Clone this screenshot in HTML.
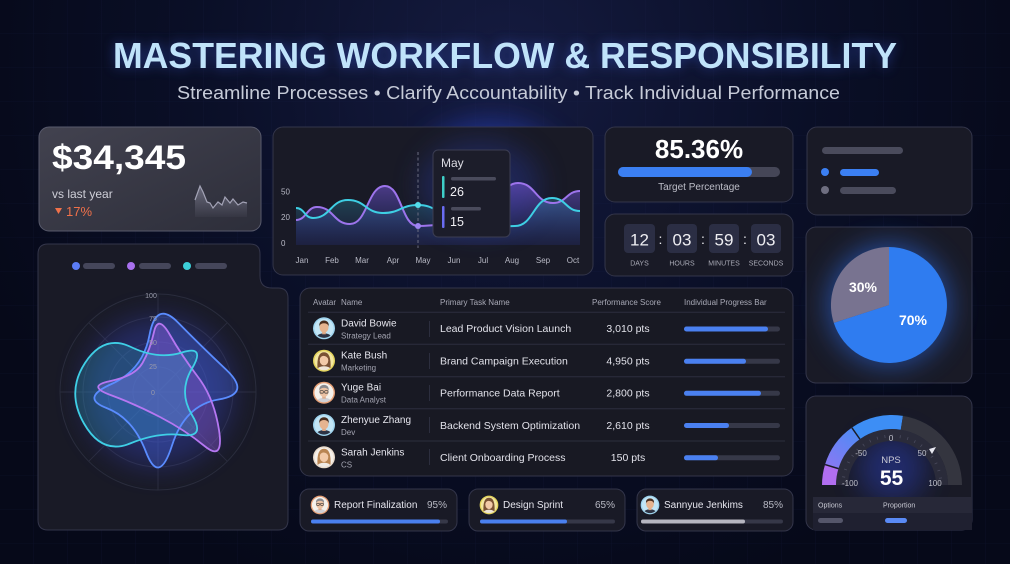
<!DOCTYPE html>
<html><head><meta charset="utf-8"><style>html,body{margin:0;padding:0;background:#070b1e;}svg{display:block}</style></head>
<body>
<svg xmlns="http://www.w3.org/2000/svg" width="1010" height="564" viewBox="0 0 1010 564" font-family="'Liberation Sans', sans-serif">
<defs>
 <radialGradient id="bgG" cx="505" cy="70" r="560" gradientUnits="userSpaceOnUse">
  <stop offset="0" stop-color="#151b40"/>
  <stop offset="0.55" stop-color="#0a0f27"/>
  <stop offset="1" stop-color="#060919"/>
 </radialGradient>
 <pattern id="grid" width="34" height="34" patternUnits="userSpaceOnUse">
  <path d="M34 0 V34 M0 34 H34" stroke="#1c2454" stroke-width="0.6" fill="none" opacity="0.35"/>
 </pattern>
 <filter id="blur6" x="-20%" y="-80%" width="140%" height="260%"><feGaussianBlur stdDeviation="6"/></filter>
 <filter id="blur2" x="-20%" y="-20%" width="140%" height="140%"><feGaussianBlur stdDeviation="2"/></filter>
 <filter id="blur14" x="-80%" y="-80%" width="260%" height="260%"><feGaussianBlur stdDeviation="14"/></filter>
 <linearGradient id="c1g" x1="0" y1="0" x2="1" y2="1">
  <stop offset="0" stop-color="#42424f"/><stop offset="1" stop-color="#2d2e3a"/>
 </linearGradient>
 <linearGradient id="sparkG" x1="0" y1="185" x2="0" y2="217" gradientUnits="userSpaceOnUse">
  <stop offset="0" stop-color="#9a9ab0" stop-opacity="0.55"/><stop offset="1" stop-color="#9a9ab0" stop-opacity="0.05"/>
 </linearGradient>
 <linearGradient id="areaP" x1="0" y1="183" x2="0" y2="245" gradientUnits="userSpaceOnUse">
  <stop offset="0" stop-color="#7c5ae0" stop-opacity="0.55"/><stop offset="1" stop-color="#2b3aa0" stop-opacity="0.12"/>
 </linearGradient>
 <linearGradient id="areaC" x1="0" y1="198" x2="0" y2="245" gradientUnits="userSpaceOnUse">
  <stop offset="0" stop-color="#2fb5c8" stop-opacity="0.28"/><stop offset="1" stop-color="#2b3aa0" stop-opacity="0.1"/>
 </linearGradient>
 <linearGradient id="gaugeG" x1="825" y1="465" x2="855" y2="428" gradientUnits="userSpaceOnUse">
  <stop offset="0" stop-color="#8a78f2"/><stop offset="1" stop-color="#4d8cf5"/>
 </linearGradient>
 <clipPath id="avc"><circle r="9.6"/></clipPath>
 <clipPath id="chartClip"><rect x="273" y="127" width="320" height="148" rx="10"/></clipPath>
</defs>

<!-- background -->
<rect width="1010" height="564" fill="url(#bgG)"/>
<rect width="1010" height="564" fill="url(#grid)"/>

<!-- title -->
<text x="505" y="68" text-anchor="middle" font-size="36" font-weight="bold" fill="#3a5ad0" opacity="0.55" filter="url(#blur6)" textLength="784" lengthAdjust="spacingAndGlyphs">MASTERING WORKFLOW &amp; RESPONSIBILITY</text>
<text x="505" y="68" text-anchor="middle" font-size="36" font-weight="bold" fill="#c0e3fa" textLength="784" lengthAdjust="spacingAndGlyphs">MASTERING WORKFLOW &amp; RESPONSIBILITY</text>
<text x="508.5" y="99" text-anchor="middle" font-size="18" fill="#c6cbd8" textLength="663" lengthAdjust="spacingAndGlyphs">Streamline Processes • Clarify Accountability • Track Individual Performance</text>

<!-- Card 1: revenue -->
<rect x="39" y="127" width="222" height="104" rx="10" fill="url(#c1g)" stroke="#585a6c" stroke-width="1"/>
<text x="52" y="169" font-size="34" font-weight="bold" fill="#ffffff" textLength="134" lengthAdjust="spacingAndGlyphs">$34,345</text>
<text x="52" y="198" font-size="12" fill="#cfcfd8">vs last year</text>
<path d="M55,208 L62,208 L58.5,214 Z" fill="#f0714a"/>
<text x="66" y="216" font-size="13" fill="#f0714a">17%</text>
<path d="M195,217 L195,200 L200,186 L203,192 L207,202 L210,203 L213,208 L218,202 L222,205 L225,197 L230,203 L233,199 L238,205 L243,202 L247,203 L247,217 Z" fill="url(#sparkG)"/>
<path d="M195,200 L200,186 L203,192 L207,202 L210,203 L213,208 L218,202 L222,205 L225,197 L230,203 L233,199 L238,205 L243,202 L247,203" fill="none" stroke="#a3a3b6" stroke-width="1.2"/>

<!-- Card 2: line chart -->
<ellipse cx="490" cy="175" rx="75" ry="55" fill="#2a44c8" opacity="0.55" filter="url(#blur14)"/>
<rect x="273" y="127" width="320" height="148" rx="10" fill="#191a26" stroke="#33354a" stroke-width="1"/>
<g clip-path="url(#chartClip)">
 <ellipse cx="480" cy="185" rx="60" ry="45" fill="#2a3cb0" opacity="0.35" filter="url(#blur14)"/>
</g>
<path d="M296,220 C306.5,220 306.5,207 317,207 C333.5,207 333.5,224 350,224 C367.5,224 367.5,186 385,186 C401.5,186 401.5,226 418,226 C429,226 429,225 440,225 C461.5,225 461.5,210 483,210 C500.5,210 500.5,183 518,183 C535.5,183 535.5,203 553,203 C566.5,203 566.5,191 580,191 L580,245 L296,245 Z" fill="url(#areaP)"/>
<path d="M296,208 C304.5,208 304.5,218 313,218 C330.5,218 330.5,200 348,200 C365.5,200 365.5,213 383,213 C400.5,213 400.5,205 418,205 C436,205 436,215 454,215 C468.5,215 468.5,228 483,228 C499,228 499,226 515,226 C533.5,226 533.5,198 552,198 C566,198 566,211 580,211 L580,245 L296,245 Z" fill="url(#areaC)"/>
<line x1="418" y1="152" x2="418" y2="248" stroke="#6a6c80" stroke-width="1" stroke-dasharray="3 2.5"/>
<path d="M296,220 C306.5,220 306.5,207 317,207 C333.5,207 333.5,224 350,224 C367.5,224 367.5,186 385,186 C401.5,186 401.5,226 418,226 C429,226 429,225 440,225 C461.5,225 461.5,210 483,210 C500.5,210 500.5,183 518,183 C535.5,183 535.5,203 553,203 C566.5,203 566.5,191 580,191" fill="none" stroke="#9d74ec" stroke-width="2"/>
<path d="M296,208 C304.5,208 304.5,218 313,218 C330.5,218 330.5,200 348,200 C365.5,200 365.5,213 383,213 C400.5,213 400.5,205 418,205 C436,205 436,215 454,215 C468.5,215 468.5,228 483,228 C499,228 499,226 515,226 C533.5,226 533.5,198 552,198 C566,198 566,211 580,211" fill="none" stroke="#3ecfe4" stroke-width="2"/>
<circle cx="418" cy="205" r="3" fill="#55dcea"/>
<circle cx="418" cy="226" r="3" fill="#9e84f2"/>
<g font-size="8" fill="#b9bac6">
 <text x="281" y="194.5">50</text>
 <text x="281" y="220">20</text>
 <text x="281" y="246">0</text>
 <g text-anchor="middle">
  <text x="302" y="263">Jan</text><text x="332" y="263">Feb</text><text x="362" y="263">Mar</text>
  <text x="393" y="263">Apr</text><text x="423" y="263">May</text><text x="454" y="263">Jun</text>
  <text x="483" y="263">Jul</text><text x="512" y="263">Aug</text><text x="543" y="263">Sep</text>
  <text x="573" y="263">Oct</text>
 </g>
</g>
<!-- tooltip -->
<rect x="433" y="150" width="77" height="87" rx="5" fill="#1c1d2a" stroke="#3b3d52" stroke-width="1"/>
<text x="441" y="167" font-size="12" fill="#dcdce4">May</text>
<rect x="442" y="176" width="2.5" height="22" rx="1" fill="#3ecfc8"/>
<rect x="451" y="177" width="45" height="3.5" rx="1.7" fill="#4a4b5c"/>
<text x="450" y="196" font-size="12.5" fill="#f0f0f4">26</text>
<rect x="442" y="206" width="2.5" height="22" rx="1" fill="#6a6cf2"/>
<rect x="451" y="207" width="30" height="3.5" rx="1.7" fill="#4a4b5c"/>
<text x="450" y="226" font-size="12.5" fill="#f0f0f4">15</text>

<!-- Target percentage card -->
<rect x="605" y="127" width="188" height="75" rx="10" fill="#191a26" stroke="#33354a" stroke-width="1"/>
<text x="699" y="158" text-anchor="middle" font-size="26" font-weight="bold" fill="#ffffff">85.36%</text>
<rect x="618" y="167" width="162" height="10" rx="5" fill="#454657"/>
<rect x="618" y="167" width="134" height="10" rx="5" fill="#3b7ff2"/>
<text x="699" y="190" text-anchor="middle" font-size="10" fill="#bdbec8">Target Percentage</text>

<!-- Countdown card -->
<rect x="605" y="214" width="188" height="62" rx="10" fill="#191a26" stroke="#33354a" stroke-width="1"/>
<g fill="#2b2e44">
 <rect x="624" y="224" width="31" height="29" rx="4"/>
 <rect x="667" y="224" width="30" height="29" rx="4"/>
 <rect x="709" y="224" width="30" height="29" rx="4"/>
 <rect x="751" y="224" width="30" height="29" rx="4"/>
</g>
<g font-size="17" fill="#eeeef2" text-anchor="middle">
 <text x="639.5" y="245.5">12</text><text x="682" y="245.5">03</text>
 <text x="724" y="245.5">59</text><text x="766" y="245.5">03</text>
 <text x="660.5" y="244" font-size="14">:</text><text x="703" y="244" font-size="14">:</text><text x="745" y="244" font-size="14">:</text>
</g>
<g font-size="7" fill="#a9aab6" text-anchor="middle">
 <text x="639.5" y="265.5">DAYS</text><text x="682" y="265.5">HOURS</text>
 <text x="724" y="265.5">MINUTES</text><text x="766" y="265.5">SECONDS</text>
</g>

<!-- top right legend card -->
<rect x="807" y="127" width="165" height="88" rx="10" fill="#191a26" stroke="#33354a" stroke-width="1"/>
<rect x="822" y="147" width="81" height="7" rx="3.5" fill="#4a4b5c"/>
<circle cx="825" cy="172" r="4" fill="#3b7ff2"/>
<rect x="840" y="169" width="39" height="7" rx="3.5" fill="#3b7ff2"/>
<circle cx="825" cy="190" r="4" fill="#6e6e80"/>
<rect x="840" y="187" width="56" height="7" rx="3.5" fill="#4a4b5c"/>

<!-- Pie card -->
<rect x="806" y="227" width="166" height="156" rx="10" fill="#191a26" stroke="#33354a" stroke-width="1"/>
<circle cx="889" cy="305" r="60" fill="#2f6ff0" opacity="0.6" filter="url(#blur14)"/>
<path d="M889,305 L889,247 A58,58 0 1 1 833.8,322.9 Z" fill="#2f7cf0"/>
<path d="M889,305 L889,247 A58,58 0 0 0 833.8,322.9 Z" fill="#787390"/>
<text x="863" y="292" text-anchor="middle" font-size="14" font-weight="bold" fill="#ffffff">30%</text>
<text x="913" y="325" text-anchor="middle" font-size="14" font-weight="bold" fill="#ffffff">70%</text>

<!-- Gauge card -->
<rect x="806" y="396" width="166" height="134" rx="10" fill="#191a26" stroke="#33354a" stroke-width="1"/>
<circle cx="892" cy="468" r="34" fill="#2a40c0" opacity="0.45" filter="url(#blur14)"/>
<path d="M836,485 A56,56 0 0 1 948,485 L936,485 A44,44 0 0 0 848,485 Z" fill="#2a2b3a"/>
<path d="M843,485 A49,49 0 0 1 941,485" fill="none" stroke="#4a4b5e" stroke-width="3" stroke-dasharray="0.8 6.9"/>
<path d="M822,485 A70,70 0 0 1 825.06,464.53 L838.45,468.63 A56,56 0 0 0 836,485 Z" fill="#b16ef0"/>
<path d="M825.06,464.53 A70,70 0 0 1 851.85,427.66 L859.88,439.12 A56,56 0 0 0 838.45,468.63 Z" fill="url(#gaugeG)"/>
<path d="M851.85,427.66 A70,70 0 0 1 902.95,415.86 L900.76,429.69 A56,56 0 0 0 859.88,439.12 Z" fill="#3d8ef5"/>
<path d="M902.95,415.86 A70,70 0 0 1 962,485 L948,485 A56,56 0 0 0 900.76,429.69 Z" fill="#34353f"/>
<line x1="825.06" y1="464.53" x2="838.45" y2="468.63" stroke="#1b1c28" stroke-width="1.5"/>
<line x1="851.85" y1="427.66" x2="859.88" y2="439.12" stroke="#1b1c28" stroke-width="1.5"/>
<g font-size="8" fill="#bfc0ca" text-anchor="middle">
 <text x="891" y="441">0</text>
 <text x="861" y="456">-50</text>
 <text x="922" y="456">50</text>
 <text x="850" y="486">-100</text>
 <text x="935" y="486">100</text>
</g>
<path d="M929,449 L936,447 L932,454 Z" fill="#e8e8f0"/>
<text x="891" y="463" text-anchor="middle" font-size="9.5" fill="#c9cad4">NPS</text>
<text x="891.5" y="485" text-anchor="middle" font-size="21" font-weight="bold" fill="#ffffff">55</text>
<rect x="813" y="497" width="159" height="16" fill="#272838"/>
<rect x="813" y="513" width="159" height="17" fill="#1f2030"/>
<text x="818" y="507.5" font-size="7" fill="#c9cad4">Options</text>
<text x="883" y="507.5" font-size="7" fill="#c9cad4">Proportion</text>
<rect x="818" y="518" width="25" height="5" rx="2.5" fill="#55566a"/>
<rect x="885" y="518" width="22" height="5" rx="2.5" fill="#5a8af5"/>

<!-- Radar card -->
<path d="M48,244 H250 Q260,244 260,254 V276 Q260,288 272,288 H278 Q288,288 288,298 V520 Q288,530 278,530 H48 Q38,530 38,520 V254 Q38,244 48,244 Z" fill="#191a26" stroke="#33354a" stroke-width="1"/>
<circle cx="76" cy="266" r="4" fill="#5b7cf5"/><rect x="83" y="263" width="32" height="6" rx="3" fill="#45465a"/>
<circle cx="131" cy="266" r="4" fill="#a870ee"/><rect x="139" y="263" width="32" height="6" rx="3" fill="#45465a"/>
<circle cx="187" cy="266" r="4" fill="#3ccfd8"/><rect x="195" y="263" width="32" height="6" rx="3" fill="#45465a"/>
<g fill="none" stroke="#2b2c3b" stroke-width="1">
 <circle cx="158" cy="392" r="25"/><circle cx="158" cy="392" r="50"/><circle cx="158" cy="392" r="75"/><circle cx="158" cy="392" r="98"/>
 <line x1="60" y1="392" x2="256" y2="392"/><line x1="158" y1="294" x2="158" y2="490"/>
 <line x1="88.7" y1="322.7" x2="227.3" y2="461.3"/><line x1="227.3" y1="322.7" x2="88.7" y2="461.3"/>
</g>
<circle cx="158" cy="392" r="75" fill="#3a4ad0" opacity="0.35" filter="url(#blur14)"/>
<path d="M149.5,335 Q156,300 178,322.5 Q200,345 226,369.5 Q252,394 218.5,399.5 Q185,405 172,445.5 Q159,486 146,452 Q133,418 106.5,408 Q80,398 111.5,384 Q143,370 149.5,335 Z" fill="#4a6ef0" fill-opacity="0.3"/>
<path d="M154,332 Q158,314 170,335 Q182,356 198,377 Q214,398 219,430 Q224,462 204.5,446 Q185,430 160,417 Q135,404 110.5,395 Q86,386 110.5,381 Q135,376 142.5,363 Q150,350 154,332 Z" fill="#9a5ee0" fill-opacity="0.35"/>
<path d="M84,423.5 Q66,392 85,363 Q104,334 131,347 Q158,360 182,352.5 Q206,345 192,368.5 Q178,392 192,415 Q206,438 182,435 Q158,432 130,443.5 Q102,455 84,423.5 Z" fill="#2ab0c8" fill-opacity="0.25"/>
<g fill="none" stroke-width="1.8">
 <path d="M149.5,335 Q156,300 178,322.5 Q200,345 226,369.5 Q252,394 218.5,399.5 Q185,405 172,445.5 Q159,486 146,452 Q133,418 106.5,408 Q80,398 111.5,384 Q143,370 149.5,335 Z" stroke="#5a8cff"/>
 <path d="M154,332 Q158,314 170,335 Q182,356 198,377 Q214,398 219,430 Q224,462 204.5,446 Q185,430 160,417 Q135,404 110.5,395 Q86,386 110.5,381 Q135,376 142.5,363 Q150,350 154,332 Z" stroke="#b577f2"/>
 <path d="M84,423.5 Q66,392 85,363 Q104,334 131,347 Q158,360 182,352.5 Q206,345 192,368.5 Q178,392 192,415 Q206,438 182,435 Q158,432 130,443.5 Q102,455 84,423.5 Z" stroke="#3fcfe6"/>
</g>
<g font-size="7" fill="#9a9bab" text-anchor="middle">
 <text x="151" y="298">100</text><text x="153" y="321">75</text><text x="153" y="345">50</text><text x="153" y="369">25</text><text x="153" y="395">0</text>
</g>

<!-- Table card -->
<rect x="300" y="288" width="493" height="188" rx="10" fill="#181923" stroke="#33354a" stroke-width="1"/>
<g font-size="8" fill="#a8a9b6">
 <text x="313" y="305">Avatar</text><text x="341" y="305">Name</text>
 <text x="440" y="305">Primary Task Name</text><text x="592" y="305">Performance Score</text>
 <text x="684" y="305">Individual Progress Bar</text>
</g>
<g stroke="#2c2e3e" stroke-width="1">
 <line x1="308" y1="312.3" x2="785" y2="312.3"/>
 <line x1="308" y1="344.3" x2="785" y2="344.3"/>
 <line x1="308" y1="376.7" x2="785" y2="376.7"/>
 <line x1="308" y1="408.7" x2="785" y2="408.7"/>
 <line x1="308" y1="441" x2="785" y2="441"/>
 <line x1="429.5" y1="321" x2="429.5" y2="337"/>
 <line x1="429.5" y1="353" x2="429.5" y2="369"/>
 <line x1="429.5" y1="385" x2="429.5" y2="401"/>
 <line x1="429.5" y1="417" x2="429.5" y2="433"/>
 <line x1="429.5" y1="449" x2="429.5" y2="465"/>
</g>
<g font-size="10" fill="#e6e6ee">
 <text x="341" y="326.5">David Bowie</text>
 <text x="341" y="358.7">Kate Bush</text>
 <text x="341" y="390.7">Yuge Bai</text>
 <text x="341" y="423">Zhenyue Zhang</text>
 <text x="341" y="455.3">Sarah Jenkins</text>
</g>
<g font-size="8" fill="#a4a5b2">
 <text x="341" y="338.5">Strategy Lead</text>
 <text x="341" y="370.7">Marketing</text>
 <text x="341" y="402.7">Data Analyst</text>
 <text x="341" y="435">Dev</text>
 <text x="341" y="467.3">CS</text>
</g>
<g font-size="10.5" fill="#e2e2ea">
 <text x="440" y="332.1">Lead Product Vision Launch</text>
 <text x="440" y="364.5">Brand Campaign Execution</text>
 <text x="440" y="396.5">Performance Data Report</text>
 <text x="440" y="428.8">Backend System Optimization</text>
 <text x="440" y="461.1">Client Onboarding Process</text>
</g>
<g font-size="10.5" fill="#e2e2ea" text-anchor="middle">
 <text x="628" y="332.1">3,010 pts</text>
 <text x="628" y="364.5">4,950 pts</text>
 <text x="628" y="396.5">2,800 pts</text>
 <text x="628" y="428.8">2,610 pts</text>
 <text x="628" y="461.1">150 pts</text>
</g>
<g fill="#363848">
 <rect x="684" y="326.5" width="96" height="5" rx="2.5"/>
 <rect x="684" y="358.8" width="96" height="5" rx="2.5"/>
 <rect x="684" y="390.8" width="96" height="5" rx="2.5"/>
 <rect x="684" y="423" width="96" height="5" rx="2.5"/>
 <rect x="684" y="455.3" width="96" height="5" rx="2.5"/>
</g>
<g fill="#4a80f0">
 <rect x="684" y="326.5" width="84" height="5" rx="2.5"/>
 <rect x="684" y="358.8" width="62" height="5" rx="2.5"/>
 <rect x="684" y="390.8" width="77" height="5" rx="2.5"/>
 <rect x="684" y="423" width="45" height="5" rx="2.5"/>
 <rect x="684" y="455.3" width="34" height="5" rx="2.5"/>
</g>

<!-- avatars in table -->
<g transform="translate(324,328.3)">
 <circle r="11" fill="#9fd4ee"/>
 <g clip-path="url(#avc)">
  <circle r="9.6" fill="#c2e5f5"/>
  <ellipse cy="11" rx="8.5" ry="6" fill="#2d3344"/>
  <rect x="-1.8" y="2" width="3.6" height="4" fill="#d9a583"/>
  <ellipse cy="-1" rx="4.5" ry="5.4" fill="#e6b48f"/>
  <path d="M-4.8,-1.5 Q-5.2,-7.6 0,-7.8 Q5.2,-7.6 4.8,-1.5 Q4.2,-4.8 0,-5 Q-4.2,-4.8 -4.8,-1.5Z" fill="#4a2e1e"/>
 </g>
</g>
<g transform="translate(324,360.7)">
 <circle r="11" fill="#e3d35c"/>
 <g clip-path="url(#avc)">
  <circle r="9.6" fill="#f3e7a0"/>
  <path d="M-6.5,8 Q-7.5,-8.5 0,-8.5 Q7.5,-8.5 6.5,8Z" fill="#7a5234"/>
  <ellipse cy="11" rx="8" ry="5.5" fill="#efe6d8"/>
  <ellipse cy="-0.5" rx="4.3" ry="5.3" fill="#f2caa8"/>
  <path d="M-4.6,-1 Q-4.5,-6.8 0,-6.8 Q4.5,-6.8 4.6,-1 Q3,-5 -1,-4.8 Q-3.8,-4.2 -4.6,-1Z" fill="#7a5234"/>
 </g>
</g>
<g transform="translate(324,392.7)">
 <circle r="11" fill="#e6a077"/>
 <g clip-path="url(#avc)">
  <circle r="9.6" fill="#f4f1ec"/>
  <ellipse cy="11" rx="8.5" ry="6" fill="#cfd0d6"/>
  <rect x="-1.8" y="2" width="3.6" height="4" fill="#dcae90"/>
  <ellipse cy="-1" rx="4.5" ry="5.4" fill="#ebc2a4"/>
  <path d="M-4.8,-1.5 Q-5.2,-7.6 0,-7.8 Q5.2,-7.6 4.8,-1.5 Q4.2,-4.8 0,-5 Q-4.2,-4.8 -4.8,-1.5Z" fill="#8a8a8e"/>
  <rect x="-4" y="-2" width="3.3" height="2.4" rx="0.6" fill="none" stroke="#333" stroke-width="0.7"/>
  <rect x="0.7" y="-2" width="3.3" height="2.4" rx="0.6" fill="none" stroke="#333" stroke-width="0.7"/>
 </g>
</g>
<g transform="translate(324,425)">
 <circle r="11" fill="#9fd4ee"/>
 <g clip-path="url(#avc)">
  <circle r="9.6" fill="#c2e5f5"/>
  <ellipse cy="11" rx="8.5" ry="6" fill="#2d3344"/>
  <rect x="-1.8" y="2" width="3.6" height="4" fill="#d9a583"/>
  <ellipse cy="-1" rx="4.5" ry="5.4" fill="#e6b48f"/>
  <path d="M-4.8,-1.5 Q-5.2,-7.6 0,-7.8 Q5.2,-7.6 4.8,-1.5 Q4.2,-4.8 0,-5 Q-4.2,-4.8 -4.8,-1.5Z" fill="#4a2e1e"/>
 </g>
</g>
<g transform="translate(324,457.3)">
 <circle r="11" fill="#e9dccd"/>
 <g clip-path="url(#avc)">
  <circle r="9.6" fill="#f5f0ea"/>
  <path d="M-6.5,8 Q-7.5,-8.5 0,-8.5 Q7.5,-8.5 6.5,8Z" fill="#b98552"/>
  <ellipse cy="11" rx="8" ry="5.5" fill="#f0ece6"/>
  <ellipse cy="-0.5" rx="4.3" ry="5.3" fill="#f2caa8"/>
  <path d="M-4.6,-1 Q-4.5,-6.8 0,-6.8 Q4.5,-6.8 4.6,-1 Q3,-5 -1,-4.8 Q-3.8,-4.2 -4.6,-1Z" fill="#b98552"/>
 </g>
</g>

<!-- Bottom progress cards -->
<rect x="300" y="489" width="157" height="42" rx="9" fill="#191a26" stroke="#33354a" stroke-width="1"/>
<rect x="469" y="489" width="156" height="42" rx="9" fill="#191a26" stroke="#33354a" stroke-width="1"/>
<rect x="637" y="489" width="156" height="42" rx="9" fill="#191a26" stroke="#33354a" stroke-width="1"/>
<g font-size="10" fill="#e6e6ee">
 <text x="334" y="508">Report Finalization</text>
 <text x="503" y="508">Design Sprint</text>
 <text x="664" y="508">Sannyue Jenkims</text>
</g>
<g font-size="10" fill="#b8b9c4" text-anchor="end">
 <text x="447" y="508">95%</text>
 <text x="615" y="508">65%</text>
 <text x="783" y="508">85%</text>
</g>
<rect x="311" y="519.5" width="137" height="4" rx="2" fill="#363848"/>
<rect x="311" y="519.5" width="129" height="4" rx="2" fill="#4a80f0"/>
<rect x="480" y="519.5" width="135" height="4" rx="2" fill="#363848"/>
<rect x="480" y="519.5" width="87" height="4" rx="2" fill="#4a80f0"/>
<rect x="641" y="519.5" width="142" height="4" rx="2" fill="#363848"/>
<rect x="641" y="519.5" width="104" height="4" rx="2" fill="#b6b6c0"/>

<g transform="translate(320,505) scale(0.85)">
 <circle r="11" fill="#e6a077"/>
 <g clip-path="url(#avc)">
  <circle r="9.6" fill="#f4f1ec"/>
  <ellipse cy="11" rx="8.5" ry="6" fill="#cfd0d6"/>
  <rect x="-1.8" y="2" width="3.6" height="4" fill="#dcae90"/>
  <ellipse cy="-1" rx="4.5" ry="5.4" fill="#ebc2a4"/>
  <path d="M-4.8,-1.5 Q-5.2,-7.6 0,-7.8 Q5.2,-7.6 4.8,-1.5 Q4.2,-4.8 0,-5 Q-4.2,-4.8 -4.8,-1.5Z" fill="#8a8a8e"/>
  <rect x="-4" y="-2" width="3.3" height="2.4" rx="0.6" fill="none" stroke="#333" stroke-width="0.7"/>
  <rect x="0.7" y="-2" width="3.3" height="2.4" rx="0.6" fill="none" stroke="#333" stroke-width="0.7"/>
 </g>
</g>
<g transform="translate(489,505) scale(0.85)">
 <circle r="11" fill="#e3d35c"/>
 <g clip-path="url(#avc)">
  <circle r="9.6" fill="#f3e7a0"/>
  <path d="M-6.5,8 Q-7.5,-8.5 0,-8.5 Q7.5,-8.5 6.5,8Z" fill="#7a5234"/>
  <ellipse cy="11" rx="8" ry="5.5" fill="#efe6d8"/>
  <ellipse cy="-0.5" rx="4.3" ry="5.3" fill="#f2caa8"/>
  <path d="M-4.6,-1 Q-4.5,-6.8 0,-6.8 Q4.5,-6.8 4.6,-1 Q3,-5 -1,-4.8 Q-3.8,-4.2 -4.6,-1Z" fill="#7a5234"/>
 </g>
</g>
<g transform="translate(650,505) scale(0.85)">
 <circle r="11" fill="#9fd4ee"/>
 <g clip-path="url(#avc)">
  <circle r="9.6" fill="#c2e5f5"/>
  <ellipse cy="11" rx="8.5" ry="6" fill="#2d3344"/>
  <rect x="-1.8" y="2" width="3.6" height="4" fill="#d9a583"/>
  <ellipse cy="-1" rx="4.5" ry="5.4" fill="#e6b48f"/>
  <path d="M-4.8,-1.5 Q-5.2,-7.6 0,-7.8 Q5.2,-7.6 4.8,-1.5 Q4.2,-4.8 0,-5 Q-4.2,-4.8 -4.8,-1.5Z" fill="#4a2e1e"/>
 </g>
</g>
</svg>
</body></html>
